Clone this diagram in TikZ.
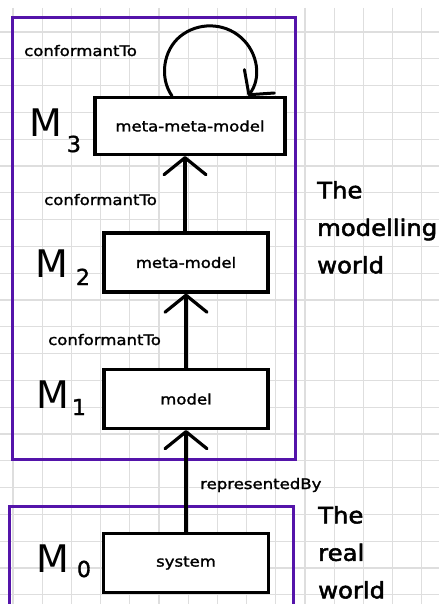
\documentclass[tikz,border=0pt]{standalone}
\usepackage{fontspec}
\usetikzlibrary{arrows.meta}
\newfontfamily\handfont[FakeStretch=1.14,FakeBold=1.6]{DejaVu Sans}
\newfontfamily\bigfont[FakeStretch=1.08,FakeBold=2.2]{DejaVu Sans}
\newfontfamily\mfont{DejaVu Sans}
\newfontfamily\digitfont[FakeBold=1.5]{DejaVu Sans}
\definecolor{gridgrey}{RGB}{222,222,222}
\definecolor{worldpurple}{RGB}{84,20,170}
\newcommand{\Mlab}[3]{M\hspace{#3}\raisebox{-#1}{\digitfont\fontsize{22}{22}\selectfont #2}}
\begin{document}
\begin{tikzpicture}[x=1pt,y=-1pt,
  gridline/.style={draw=gridgrey,line width=1.1pt},
  world/.style={draw=worldpurple,line width=3pt},
  level/.style={draw=black,fill=white,line width=3.2pt,rectangle,inner sep=0pt,
    font=\handfont\fontsize{14.5}{16}\selectfont},
  lbl/.style={inner sep=0pt,anchor=base west,font=\handfont\fontsize{14.5}{16}\selectfont},
  bigtext/.style={inner sep=0pt,anchor=north west,align=left,
    font=\bigfont\fontsize{22.5}{37.5}\selectfont},
  mlab/.style={inner sep=0pt,anchor=base west,font=\mfont\fontsize{38}{40}\selectfont},
  arr/.style={draw=black,line width=3.2pt,line cap=round,
    -{Straight Barb[length=17pt,width=42pt,round]}},
  looparr/.style={draw=black,line width=3pt,line cap=round,
    -{Straight Barb[length=17pt,width=38pt,round]}}]
\useasboundingbox (0,0) rectangle (439,604);
\clip (0,0) rectangle (439,604);
\fill[white] (0,0) rectangle (439,604);
% grid
\foreach \i in {0,...,14} \draw[gridline] (13+29.2*\i,8) -- (13+29.2*\i,604);
\foreach \j in {0,...,21} \draw[gridline] (0,32+26.8*\j) -- (439,32+26.8*\j);
% worlds
\draw[world] (12,18) rectangle (295,459);
\draw[world] (9,506) rectangle (293,640);
% level boxes
\node[level,minimum width=190pt,minimum height=57pt] (mmm) at (190,126) {meta-meta-model};
\node[level,minimum width=164pt,minimum height=59pt] (mm) at (186,262.5) {meta-model};
\node[level,minimum width=164pt,minimum height=59pt] (m) at (186,399) {model};
\node[level,minimum width=165pt,minimum height=59pt] (sys) at (186,563) {system};
% level marks
\node[mlab] (m3) at (29,137) {\Mlab{15pt}{3}{5pt}};
\node[mlab] (m2) at (35,277) {\Mlab{8pt}{2}{8pt}};
\node[mlab] (m1) at (36,408) {\Mlab{7pt}{1}{3pt}};
\node[mlab] (m0) at (36,572) {\Mlab{5pt}{0}{8pt}};
% relation labels
\node[lbl] (c3) at (24,56) {conformantTo};
\node[lbl] (c2) at (44,205) {conformantTo};
\node[lbl] (c1) at (48,345) {conformantTo};
\node[lbl] (rep) at (200,489) {representedBy};
% world labels
\node[bigtext] (mw) at (317,181) {The\\modelling\\world};
\node[bigtext] (rw) at (318,506) {The\\real\\world};
% connectors
\draw[arr] (sys.north) -- (sys.north |- m.south);
\draw[arr] (m.north) -- (m.north |- mm.south);
\draw[arr] ([xshift=-1pt]mm.north) -- ([xshift=-1pt]mm.north |- mmm.south);
\draw[looparr] ([xshift=-18pt]mmm.north)
  .. controls (159.4,78.2) and (162.9,50.4) .. (180.3,36.3)
  .. controls (197.7,22.2) and (223.7,22.2) .. (241.0,37.5)
  .. controls (258.3,52.8) and (261.5,78.6) .. ([xshift=58pt]mmm.north);
\end{tikzpicture}
\end{document}
